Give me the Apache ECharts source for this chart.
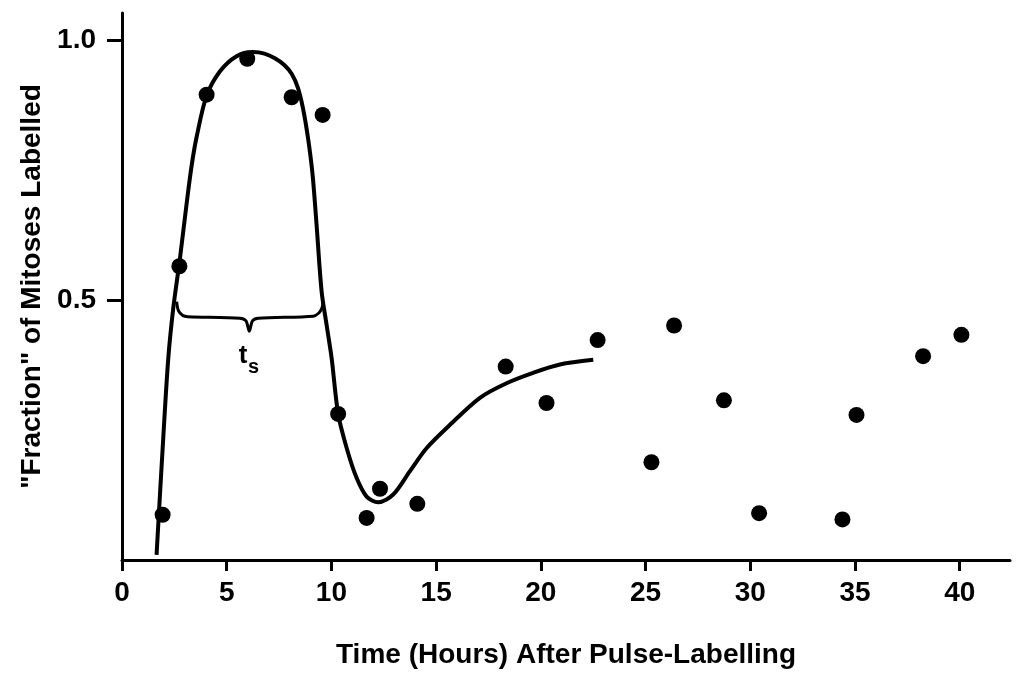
<!DOCTYPE html>
<html>
<head>
<meta charset="utf-8">
<script src="https://cdn.jsdelivr.net/npm/echarts@6/dist/echarts.min.js"></script>
<style>
  html, body { margin: 0; padding: 0; background: #fff; }
  #chart { width: 1017px; height: 674px; }
</style>
</head>
<body>
<div id="chart"></div>
<script>
// labelled mitoses data (hours after pulse, fraction labelled)
var pointHours = [1.94, 2.74, 4.04, 5.98, 8.10, 9.58, 10.32, 11.68, 12.32, 14.10, 18.32,
	20.27, 22.71, 25.28, 26.36, 28.74, 30.42, 34.40, 35.07, 38.25, 40.08];
var pointFraction = [0.087, 0.565, 0.895, 0.964, 0.890, 0.856, 0.281, 0.081, 0.137, 0.108, 0.372,
	0.302, 0.423, 0.188, 0.451, 0.307, 0.090, 0.078, 0.279, 0.392, 0.433];

// hand-drawn fitted curve
var curveHours = [1.65, 1.97, 2.21, 2.45, 2.77, 3.10, 3.33, 3.57, 4.04, 4.68, 5.47, 6.25, 6.80, 7.30,
	7.75, 8.10, 8.40, 8.64, 8.88, 9.10, 9.29, 9.53, 9.77, 10.01, 10.32, 10.73, 11.20, 11.68,
	12.23, 12.95, 13.75, 14.54, 15.66, 17.09, 18.36, 19.63, 20.91, 22.50];
var curveFraction = [0.01, 0.235, 0.388, 0.485, 0.581, 0.690, 0.760, 0.815, 0.893, 0.940, 0.969, 0.977, 0.974, 0.965,
	0.952, 0.935, 0.908, 0.869, 0.812, 0.741, 0.645, 0.517, 0.452, 0.388, 0.281, 0.215, 0.158, 0.122,
	0.111, 0.126, 0.171, 0.215, 0.260, 0.312, 0.340, 0.360, 0.376, 0.385];

// brace marking t_s
var braceHours = [2.61, 2.70, 2.91, 3.15, 5.63, 5.92, 6.08, 6.23, 6.51, 9.13, 9.40, 9.55, 9.61];
var braceFraction = [0.497, 0.479, 0.470, 0.468, 0.465, 0.460, 0.440, 0.460, 0.465, 0.469, 0.475, 0.485, 0.497];

var xTicks = [0, 5, 10, 15, 20, 25, 30, 35, 40];
var yTicks = [0.5, 1.0];

function zip(a, b) {
	return a.map(function (v, i) { return [v, b[i]]; });
}

var font = 'Liberation Sans';
var myChart = echarts.init(document.getElementById('chart'));
var option = {
	animation: false,
	backgroundColor: '#fff',
	textStyle: { fontFamily: font, color: '#000' },
	grid: { left: 122, right: 7, top: 13, bottom: 114 },
	xAxis: {
		type: 'value',
		min: 0,
		max: 42.4,
		interval: 5,
		name: 'Time (Hours) After Pulse-Labelling',
		nameLocation: 'middle',
		nameGap: 81,
		nameTextStyle: { fontFamily: font, fontWeight: 'bold', fontSize: 28, color: '#000' },
		axisLine: { lineStyle: { color: '#000', width: 3 } },
		axisTick: { customValues: xTicks, length: 11, lineStyle: { color: '#000', width: 3 } },
		axisLabel: {
			customValues: xTicks,
			margin: 19,
			fontFamily: font, fontWeight: 'bold', fontSize: 28, color: '#000'
		},
		splitLine: { show: false }
	},
	yAxis: {
		type: 'value',
		min: 0,
		max: 1.052,
		interval: 0.5,
		name: '"Fraction" of Mitoses Labelled',
		nameLocation: 'middle',
		nameGap: 71,
		nameTextStyle: { fontFamily: font, fontWeight: 'bold', fontSize: 28, color: '#000' },
		axisLine: { lineStyle: { color: '#000', width: 3 } },
		axisTick: { customValues: yTicks, length: 15, lineStyle: { color: '#000', width: 3 } },
		axisLabel: {
			customValues: yTicks,
			margin: 26,
			formatter: function (v) { return v.toFixed(1); },
			fontFamily: font, fontWeight: 'bold', fontSize: 28, color: '#000'
		},
		splitLine: { show: false }
	},
	series: [
		{
			name: 'curve',
			type: 'line',
			data: zip(curveHours, curveFraction),
			smooth: 0.3,
			symbol: 'none',
			lineStyle: { color: '#000', width: 4 }
		},
		{
			name: 'brace',
			type: 'line',
			data: zip(braceHours, braceFraction),
			smooth: 0.3,
			symbol: 'none',
			lineStyle: { color: '#000', width: 3 }
		},
		{
			name: 'points',
			type: 'scatter',
			data: zip(pointHours, pointFraction),
			symbolSize: 16,
			itemStyle: { color: '#000', opacity: 1 }
		},
		{
			name: 'ts',
			type: 'scatter',
			symbolSize: 0,
			silent: true,
			data: [
				{ value: [5.78, 0.392], label: { show: true, formatter: 't', fontSize: 26 } },
				{ value: [6.28, 0.370], label: { show: true, formatter: 's', fontSize: 20 } }
			],
			label: { position: 'inside', color: '#000', fontWeight: 'bold', fontFamily: font, opacity: 1 }
		}
	]
};
myChart.setOption(option, true);
</script>
</body>
</html>
